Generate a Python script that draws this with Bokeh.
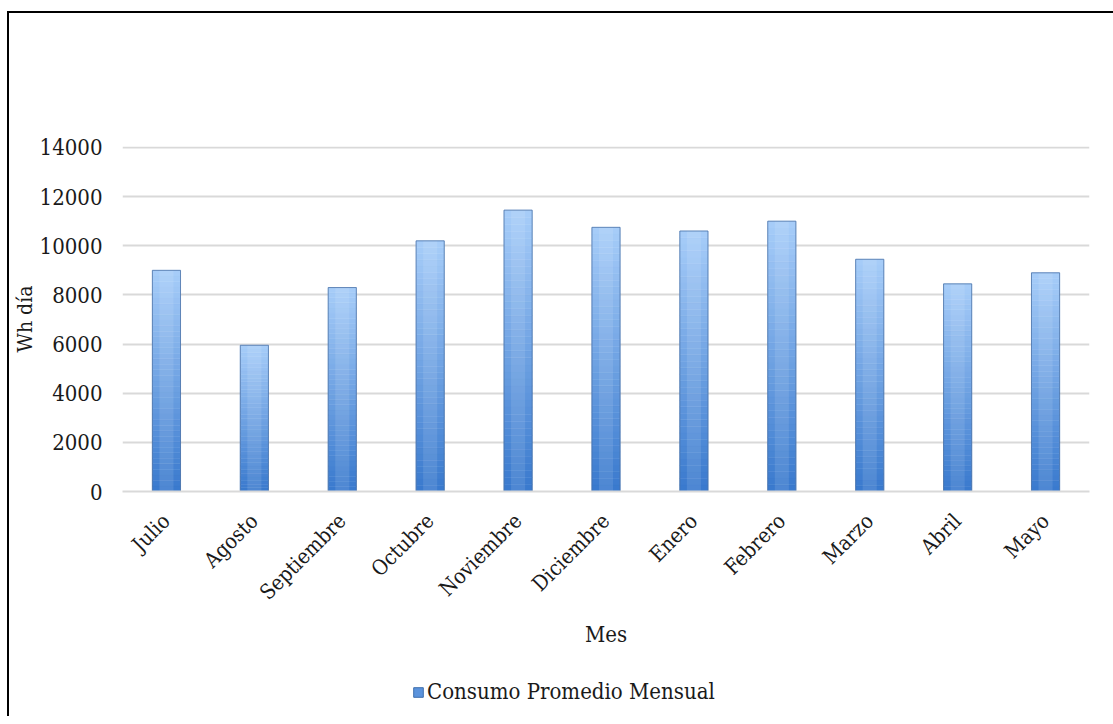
import math
from bokeh.plotting import figure
from bokeh.layouts import column
from bokeh.models import ColumnDataSource, Range1d, FixedTicker, Legend, LegendItem
from bokeh.embed import file_html
from bokeh.resources import INLINE

months = ["Julio", "Agosto", "Septiembre", "Octubre", "Noviembre", "Diciembre",
          "Enero", "Febrero", "Marzo", "Abril", "Mayo"]
consumo = [9000, 5950, 8300, 10200, 11450, 10750, 10600, 11000, 9450, 8450, 8900]
y_ticks = [0, 2000, 4000, 6000, 8000, 10000, 12000, 14000]
series_name = "Consumo Promedio Mensual"

FONT = "DejaVu Serif Condensed"
TXT = "#1a1a1a"

def lerp_color(c1, c2, t):
    a = [int(c1[i:i + 2], 16) for i in (1, 3, 5)]
    b = [int(c2[i:i + 2], 16) for i in (1, 3, 5)]
    return "#%02x%02x%02x" % tuple(round(a[j] + (b[j] - a[j]) * t) for j in range(3))

p = figure(x_range=months, y_range=Range1d(0, 14040),
           frame_width=967, frame_height=345,
           output_backend="svg", toolbar_location=None,
           min_border_left=100, min_border_right=23, min_border_top=133, min_border_bottom=165)

# gradient bars: slices built from data values
N = 40
xs, bots, tops, cols = [], [], [], []
for m, v in zip(months, consumo):
    for k in range(N):
        xs.append(m)
        bots.append(v * k / N)
        tops.append(v * (k + 1) / N)
        cols.append(lerp_color("#3a7ace", "#a6ccf8", k / (N - 1)))
src = ColumnDataSource(dict(x=xs, bottom=bots, top=tops, color=cols))
p.vbar(x="x", bottom="bottom", top="top", width=0.32, source=src,
       fill_color="color", line_color="color", line_width=0.5)

main_src = ColumnDataSource(dict(x=months, top=consumo))
p.vbar(x="x", top="top", width=0.16, source=main_src, fill_color="white",
       fill_alpha=0.10, line_color=None)
p.vbar(x="x", top="top", width=0.32, source=main_src, fill_color=None,
       line_color="#4a72a8", line_width=1, line_alpha=0.8)

p.xgrid.grid_line_color = None
p.ygrid.grid_line_color = "#d9d9d9"
p.ygrid.grid_line_width = 2
p.outline_line_color = None

p.yaxis.ticker = FixedTicker(ticks=y_ticks)
p.yaxis.axis_line_color = None
p.yaxis.major_tick_line_color = None
p.yaxis.minor_tick_line_color = None
p.yaxis.major_label_text_font = FONT
p.yaxis.major_label_text_font_size = "22px"
p.yaxis.major_label_text_color = TXT
p.yaxis.major_label_standoff = 14
p.yaxis.axis_label = "Wh día"
p.yaxis.axis_label_text_font = FONT
p.yaxis.axis_label_text_font_size = "21px"
p.yaxis.axis_label_text_font_style = "normal"
p.yaxis.axis_label_text_color = TXT
p.yaxis.axis_label_standoff = 0

p.xaxis.axis_line_color = "#d9d9d9"
p.xaxis.axis_line_width = 2
p.xaxis.major_tick_line_color = None
p.xaxis.minor_tick_line_color = None
p.xaxis.major_label_orientation = math.pi / 4
p.xaxis.major_label_text_font = FONT
p.xaxis.major_label_text_font_size = "21px"
p.xaxis.major_label_text_color = TXT
p.xaxis.major_label_standoff = 20
p.xaxis.axis_label = "Mes"
p.xaxis.axis_label_text_font = FONT
p.xaxis.axis_label_text_font_size = "22px"
p.xaxis.axis_label_text_font_style = "normal"
p.xaxis.axis_label_text_color = TXT
p.xaxis.axis_label_standoff = 6

# legend strip below the chart
lg = figure(width=1106, height=60, x_range=(0, 1), y_range=(0, 1),
            output_backend="svg", toolbar_location=None,
            min_border=0, outline_line_color=None)
lg.axis.visible = False
lg.grid.visible = False
proxy = lg.quad(left=[0.4], right=[0.5], bottom=[0.4], top=[0.5],
                fill_color="#5b93dc", line_color="#3e6fae", visible=False)
legend = Legend(items=[LegendItem(label=series_name, renderers=[proxy])],
                orientation="horizontal", location=(290, 12),
                label_text_font=FONT, label_text_font_size="22px",
                label_text_color=TXT, glyph_width=12, glyph_height=12,
                label_standoff=3, border_line_color=None, background_fill_alpha=0,
                margin=0, padding=2)
lg.add_layout(legend, "center")

layout = column(p, lg, spacing=0)
layout.margin = (11, 0, 0, 7)
layout.styles = {"border-left": "2px solid #000", "border-top": "2px solid #000"}

open("out.html", "w").write(file_html(layout, INLINE))
